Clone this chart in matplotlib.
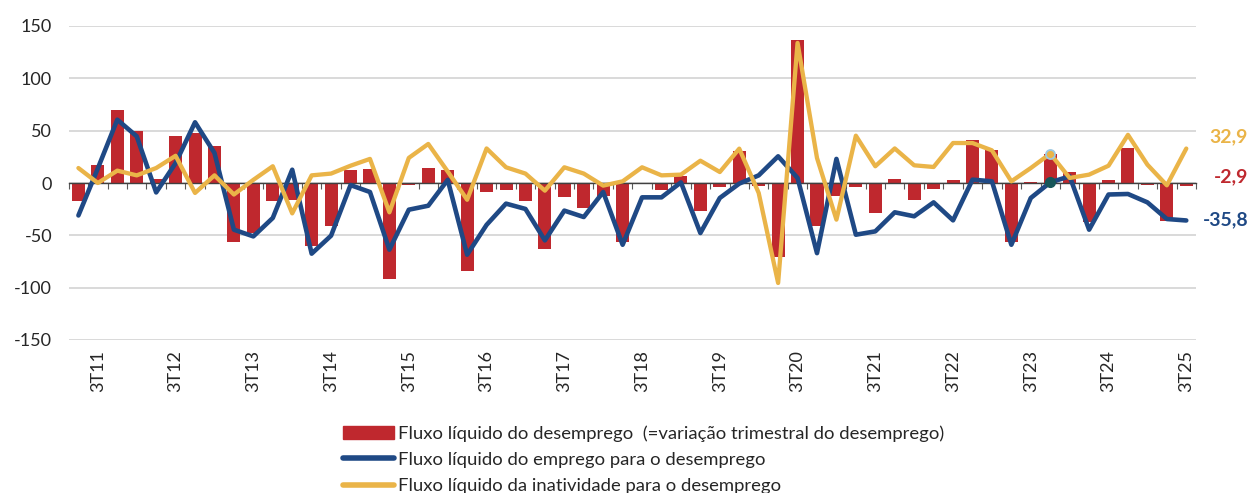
import matplotlib
matplotlib.use('Agg')
import matplotlib.pyplot as plt
from matplotlib.patches import Patch
from matplotlib.lines import Line2D
import numpy as np

# ── DATA (milhares, trimestral, 2T11 .. 3T25) ────────────────────────────────
# Fluxo líquido do desemprego (=variação trimestral do desemprego)
desemprego = [
    -17.5, 17.5, 70, 50, 3.5, 44.6, 48, 35,
    -56.5, -48, -17.5, -16, -60.5, -41.4, 12.7, 13.4,
    -91.7, -2.2, 14.3, 12, -84.4, -8.6, -7, -17.5,
    -63, -13.4, -24, -12.7, -56.7, -0.5, -7, 7,
    -27, -4, 31, -3, -71, 136.5, -41, -12,
    -4, -29, 4, -16, -5.4, 3, 41.4, 31.8,
    -56.4, 0.8, 28, 10.5, -37.6, 2.5, 33.4, -2.2,
    -36, -2.9,
]
# Fluxo líquido do emprego para o desemprego
emprego = [
    -31, 14, 60.5, 44.6, -9, 19, 58, 28.7,
    -44.6, -51, -33.4, 12.7, -67.5, -50.3, -2, -8.6,
    -63.7, -25.5, -21.7, 3, -68.5, -40, -19.7, -24.8,
    -54.8, -26.4, -32.5, -8.6, -59, -13.7, -13.7, 0.6,
    -47.8, -14.3, -0.6, 7.3, 25.5, 4.8, -67, 23,
    -49.4, -46.2, -28, -31.8, -18.5, -35.7, 3.2, 1.6,
    -59, -14.3, 0.6, 6.4, -44.6, -11, -10.5, -18.5,
    -34.4, -35.8,
]
# Fluxo líquido da inatividade para o desemprego
inatividade = [
    14.3, 0, 11.8, 7.3, 14.3, 26, -9.5, 7.3,
    -11, 3, 16, -29, 7.3, 9, 16.5, 23,
    -28, 24, 37.3, 11, -16, 33, 15, 9,
    -7.3, 15, 9, -2.5, 1.6, 15, 7.3, 8,
    21.3, 10.5, 32.8, -9.5, -95.5, 133.8, 23.9, -35,
    45.2, 16, 33, 16.9, 15.3, 38.2, 38.2, 31.2,
    1.6, 14.3, 28, 4.8, 8, 16.5, 46, 17.5,
    -2.2, 32.9,
]
tick_labels = ['3T11', '3T12', '3T13', '3T14', '3T15', '3T16', '3T17', '3T18',
               '3T19', '3T20', '3T21', '3T22', '3T23', '3T24', '3T25']
y_ticks = [150, 100, 50, 0, -50, -100, -150]

# ── STYLE ────────────────────────────────────────────────────────────────────
RED = '#BF282E'
BLUE = '#1F4985'
YELLOW = '#EAB448'
GRID = '#D9D9D9'
TXT = '#262626'
FONT = 'Lato'


def fmt(v):
    return f'{v:.1f}'.replace('.', ',')


def main():
    plt.rcParams['font.family'] = [FONT, 'DejaVu Sans']
    plt.rcParams['axes.unicode_minus'] = False

    n = len(desemprego)
    x = np.arange(n)

    fig = plt.figure(figsize=(12.51, 4.93), dpi=100)
    ax = fig.add_axes([68.7 / 1251, 1 - 340 / 493, (1196 - 68.7) / 1251, 314 / 493])

    ax.bar(x, desemprego, width=0.67, color=RED, zorder=2)
    ax.plot(x, emprego, color=BLUE, lw=3.3, solid_joinstyle='round',
            solid_capstyle='round', zorder=3)
    ax.plot(x, inatividade, color=YELLOW, lw=3.1, solid_joinstyle='round',
            solid_capstyle='round', zorder=4)

    # highlighted points (3T23)
    k = 50
    ax.plot(x[k], emprego[k], 'o', ms=7, color='#17575A', zorder=5)
    ax.plot(x[k], inatividade[k], 'o', ms=6.5, mfc=YELLOW, mec='#9DC9E2',
            mew=1.3, zorder=5)

    ax.set_xlim(-0.5, n - 0.5)
    ax.set_ylim(-150, 150)
    ax.set_yticks(y_ticks)
    ax.set_yticklabels([str(t) for t in y_ticks], fontsize=13, color=TXT)
    ax.tick_params(axis='y', length=0, pad=12)
    ax.grid(axis='y', color=GRID, lw=1.4, zorder=0)
    ax.set_axisbelow(True)

    for s in ['top', 'right', 'left']:
        ax.spines[s].set_visible(False)
    ax.spines['bottom'].set_position(('data', 0))
    ax.spines['bottom'].set_color('#404040')
    ax.spines['bottom'].set_linewidth(1.0)
    ax.set_xticks(np.arange(n + 1) - 0.5)
    ax.set_xticklabels([])
    ax.tick_params(axis='x', length=4, width=0.8, color='#595959', direction='out')

    sec = ax.secondary_xaxis('bottom')
    sec.set_xticks(np.arange(1, n, 4), labels=tick_labels, rotation=90,
                   fontsize=13, color=TXT)
    sec.tick_params(length=0, pad=7)
    sec.spines['bottom'].set_visible(False)

    # end-value labels, right-aligned near the figure edge
    lab_x = (1248 - 68.7) / 1127.3
    tr = ax.get_yaxis_transform()
    ax.text(lab_x, 44, fmt(inatividade[-1]), transform=tr, ha='right',
            va='center', fontsize=14, fontweight='bold', color=YELLOW)
    ax.text(lab_x, 6, fmt(desemprego[-1]), transform=tr, ha='right',
            va='center', fontsize=14, fontweight='bold', color=RED)
    ax.text(lab_x, -35, fmt(emprego[-1]), transform=tr, ha='right',
            va='center', fontsize=14, fontweight='bold', color=BLUE)

    handles = [
        Patch(color=RED),
        Line2D([], [], color=BLUE, lw=4, solid_capstyle='round'),
        Line2D([], [], color=YELLOW, lw=4, solid_capstyle='round'),
    ]
    labels = [
        'Fluxo líquido do desemprego  (=variação trimestral do desemprego)',
        'Fluxo líquido do emprego para o desemprego',
        'Fluxo líquido da inatividade para o desemprego',
    ]
    fig.legend(handles, labels, loc='upper left',
               bbox_to_anchor=(343 / 1251, 1 - 425 / 493),
               frameon=False, fontsize=13.3, handlelength=2.75,
               handletextpad=0.25, labelspacing=0.56, borderpad=0,
               borderaxespad=0, labelcolor=TXT)

    fig.savefig('out.png', dpi=100, facecolor='white')


if __name__ == '__main__':
    main()
